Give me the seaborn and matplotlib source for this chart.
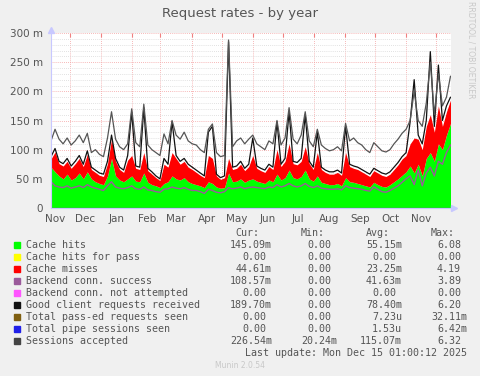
import pandas as pd
import seaborn as sns
import matplotlib.pyplot as plt
import matplotlib.dates as mdates
from matplotlib.ticker import MultipleLocator, FuncFormatter

# values in milli-requests/s, one point every ~4 days from Nov 12 2024 to Dec 15 2025
cache_hits = [
    70, 62, 55, 50, 58, 48, 52, 60, 50, 62,
    50, 45, 42, 40, 55, 85, 55, 48, 45, 50,
    55, 46, 45, 60, 44, 40, 38, 35, 42, 45,
    55, 50, 48, 52, 45, 42, 40, 38, 35, 45,
    42, 36, 34, 35, 60, 45, 46, 50, 44, 48,
    50, 46, 44, 42, 48, 45, 58, 48, 52, 65,
    52, 50, 54, 65, 50, 46, 55, 44, 42, 40,
    40, 42, 38, 52, 45, 44, 42, 40, 38, 36,
    44, 40, 37, 36, 40, 45, 50, 56, 62, 72,
    60, 75, 55, 85, 95, 80, 110, 100, 125, 145,
]
cache_misses = [
    14, 34, 21, 22, 22, 20, 24, 25, 21, 30,
    16, 16, 14, 14, 21, 33, 25, 18, 16, 32,
    35, 22, 21, 35, 20, 18, 14, 12, 33, 25,
    40, 35, 27, 28, 25, 24, 21, 18, 17, 45,
    43, 19, 15, 17, 25, 21, 22, 25, 20, 23,
    40, 22, 20, 19, 23, 21, 42, 23, 28, 45,
    24, 24, 26, 40, 26, 20, 40, 22, 19, 18,
    18, 19, 18, 43, 26, 24, 24, 22, 20, 18,
    20, 20, 19, 18, 18, 21, 24, 28, 28, 38,
    60, 43, 45, 55, 65, 50, 65, 40, 40, 40,
]
backend_success = [
    45, 38, 36, 35, 38, 34, 36, 38, 35, 40,
    36, 34, 32, 30, 38, 45, 36, 34, 33, 35,
    38, 33, 32, 36, 31, 30, 28, 27, 32, 33,
    36, 34, 33, 35, 32, 30, 30, 28, 25, 32,
    30, 27, 26, 28, 35, 33, 34, 36, 33, 35,
    36, 35, 34, 33, 36, 35, 40, 36, 38, 42,
    38, 36, 38, 42, 37, 35, 38, 34, 33, 32,
    32, 33, 31, 38, 35, 34, 33, 32, 30, 29,
    36, 32, 28, 27, 30, 34, 38, 44, 50, 55,
    40, 65, 38, 60, 70, 55, 80, 75, 95, 108,
]
client_requests = [
    88, 102, 80, 76, 85, 72, 80, 90, 75, 98,
    70, 65, 60, 58, 80, 125, 85, 70, 65, 90,
    165, 72, 70, 172, 68, 62, 55, 50, 85, 75,
    148, 90, 80, 85, 75, 70, 65, 60, 55, 130,
    140, 58, 52, 55, 285, 70, 72, 80, 68, 75,
    120, 72, 68, 65, 75, 70, 148, 75, 85, 165,
    80, 78, 85, 160, 80, 70, 130, 70, 65, 62,
    62, 65, 60, 140, 75, 72, 70, 66, 62, 58,
    68, 64, 60, 58, 62, 70, 78, 88, 95, 148,
    220, 125, 110, 150, 268, 140, 245, 150, 175, 190,
]
sessions_accepted = [
    115, 135, 118, 110, 120, 108, 115, 125, 112, 128,
    95, 100, 92, 88, 120, 165, 118, 105, 100, 110,
    170, 112, 105, 178, 108, 100, 95, 90, 127, 110,
    150, 125, 118, 130, 115, 110, 108, 100, 95, 135,
    144, 95, 88, 90, 288, 105, 115, 120, 110, 118,
    125, 110, 105, 100, 115, 110, 150, 108, 120, 172,
    118, 110, 125, 165, 115, 105, 135, 108, 102, 98,
    100, 105, 98, 145, 115, 120, 112, 108, 100, 95,
    112, 105, 98, 96, 100, 110, 118, 128, 135, 150,
    200, 150, 140, 180, 250, 160, 230, 175, 190, 226,
]
zero_series = [0] * len(cache_hits)

legend_labels = ["Cache hits", "Cache hits for pass", "Cache misses",
                 "Backend conn. success", "Backend conn. not attempted",
                 "Good client requests received", "Total pass-ed requests seen",
                 "Total pipe sessions seen", "Sessions accepted"]
legend_colors = ["#00FF00", "#FFFF00", "#FF0000", "#9B5A9B", "#FF55FF",
                 "#111111", "#7F5F10", "#2020E8", "#444444"]
cur_vals = ["145.09m", "0.00", "44.61m", "108.57m", "0.00", "189.70m", "0.00", "0.00", "226.54m"]
min_vals = ["0.00", "0.00", "0.00", "0.00", "0.00", "0.00", "0.00", "0.00", "20.24m"]
avg_vals = ["55.15m", "0.00", "23.25m", "41.63m", "0.00", "78.40m", "7.23u", "1.53u", "115.07m"]
max_vals = ["6.08", "0.00", "4.19", "3.89", "0.00", "6.20", "32.11m", "6.42m", "6.32"]

dates = pd.date_range("2024-11-12", "2025-12-15", periods=len(cache_hits))
df = pd.DataFrame({"date": dates, "hits": cache_hits, "misses": cache_misses,
                   "backend": backend_success, "client": client_requests,
                   "sessions": sessions_accepted, "zero": zero_series})
df["hits_pass_top"] = df["hits"] + df["zero"]
df["miss_top"] = df["hits_pass_top"] + df["misses"]

sns.set_style("white")
plt.rcParams["font.family"] = ["DejaVu Sans"]

W, H = 481, 376
fig = plt.figure(figsize=(W / 100, H / 100), dpi=100, facecolor="#F0F0F0")
ax = fig.add_axes([51 / W, 1 - 208 / H, 400 / W, 175 / H])
ax.set_facecolor("white")

ax.fill_between(df["date"], 0, df["hits"], color="#00FF00", lw=0)
ax.fill_between(df["date"], df["hits"], df["hits_pass_top"], color="#FFFF00", lw=0)
ax.fill_between(df["date"], df["hits_pass_top"], df["miss_top"], color="#FF0000", lw=0)

for col, color, lw in [("backend", "#9B5A9B", 1.0), ("zero", "#FF55FF", 0.8),
                       ("client", "#111111", 0.9), ("zero", "#7F5F10", 0.8),
                       ("zero", "#2020E8", 0.8), ("sessions", "#555555", 0.9)]:
    sns.lineplot(data=df, x="date", y=col, color=color, lw=lw, ax=ax, legend=False)

ax.set_xlim(pd.Timestamp("2024-11-12"), pd.Timestamp("2025-12-15 12:00"))
ax.set_ylim(0, 300)
ax.set_xlabel("")
ax.set_ylabel("")

ax.xaxis.set_major_locator(mdates.MonthLocator())
ax.xaxis.set_major_formatter(plt.NullFormatter())
ax.xaxis.set_minor_locator(mdates.MonthLocator(bymonthday=16))
ax.xaxis.set_minor_formatter(mdates.DateFormatter("%b"))
ax.yaxis.set_major_locator(MultipleLocator(50))
ax.yaxis.set_minor_locator(MultipleLocator(10))
ax.yaxis.set_major_formatter(FuncFormatter(lambda v, p: "0" if v == 0 else f"{v:.0f} m"))

ax.set_axisbelow(True)
ax.grid(which="minor", axis="y", color="#D8D8D8", linestyle=(0, (1, 1.5)), lw=0.6)
ax.grid(which="major", axis="both", color="#F4A0A0", linestyle=(0, (1, 1.5)), lw=0.6)

ax.tick_params(axis="x", which="major", length=3, direction="in", color="#F08080", top=True)
ax.tick_params(axis="x", which="minor", length=0, pad=4, labelsize=7.5, labelcolor="#555555")
ax.tick_params(axis="y", which="major", length=0, pad=6, labelsize=7.5, labelcolor="#555555")
ax.tick_params(axis="y", which="minor", length=0)

for s in ["top", "right"]:
    ax.spines[s].set_visible(False)
for s in ["left", "bottom"]:
    ax.spines[s].set_color("#C8C8FF")
    ax.spines[s].set_linewidth(0.8)
ax.plot([0], [1.02], marker="^", ms=4, color="#C8C8FF", transform=ax.transAxes, clip_on=False)
ax.plot([1.008], [0], marker=">", ms=4, color="#C8C8FF", transform=ax.transAxes, clip_on=False)


def px(x, y):
    return x / W, 1 - y / H


fig.text(*px(240, 14), "Request rates - by year", ha="center", va="center",
         fontsize=9.5, color="#555555")
fig.text(*px(471, 50), "RRDTOOL / TOBI OETIKER", ha="center", va="center",
         rotation=270, fontsize=5.5, color="#C8C8C8")

mono = dict(family="DejaVu Sans Mono", fontsize=7.2, color="#555555", va="center")
for label, x in [("Cur:", 235), ("Min:", 301), ("Avg:", 366), ("Max:", 431)]:
    fig.text(*px(x, 233), label, ha="left", **mono)

col_ends = [272, 337, 402, 467]
for i, label in enumerate(legend_labels):
    y = 245 + 12 * i
    fig.patches.append(plt.Rectangle(px(14, y + 3), 6 / W, 6 / H, transform=fig.transFigure,
                                     color=legend_colors[i], figure=fig))
    fig.text(*px(26.5, y), label, ha="left", **mono)
    for vals, xe in zip([cur_vals, min_vals, avg_vals, max_vals], col_ends):
        v = vals[i]
        x = xe if v[-1].isalpha() else xe - 6
        fig.text(*px(x, y), v, ha="right", **mono)

fig.text(*px(467, 353), "Last update: Mon Dec 15 01:00:12 2025", ha="right", **mono)
fig.text(*px(240, 366), "Munin 2.0.54", ha="center", va="center", fontsize=5.5, color="#C8C8C8")

fig.savefig("out.png", dpi=100, facecolor=fig.get_facecolor())
